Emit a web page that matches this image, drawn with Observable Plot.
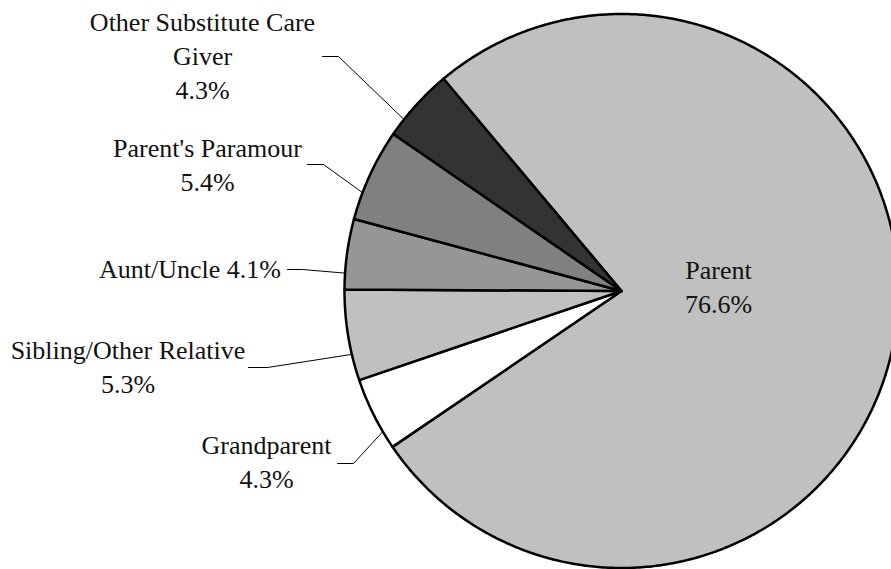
<!DOCTYPE html>
<html>
<head>
<meta charset="utf-8">
<script src="https://cdn.jsdelivr.net/npm/d3@7"></script>
<script src="https://cdn.jsdelivr.net/npm/@observablehq/plot@0.6"></script>
<style>
  html, body { margin: 0; padding: 0; background: #fff; overflow: hidden; }
</style>
</head>
<body>
<div id="chart"></div>
<script>
// ---- data ----
const categories = ["Parent", "Grandparent", "Sibling/Other Relative", "Aunt/Uncle", "Parent's Paramour", "Other Substitute Care Giver"];
const percents = [76.6, 4.3, 5.3, 4.1, 5.4, 4.3];
const labelLines = [["Parent", "76.6%"], ["Grandparent", "4.3%"], ["Sibling/Other Relative", "5.3%"], ["Aunt/Uncle 4.1%"], ["Parent's Paramour", "5.4%"], ["Other Substitute Care", "Giver", "4.3%"]];

// ---- styles / layout ----
const sliceFills = ["#c0c0c0", "#ffffff", "#c0c0c0", "#969696", "#808080", "#333333"];
const W = 891, H = 569;
const pie = {cx: 621, cy: 290.5, r: 277, startAngle: 320};
const fontSize = 26, lineStep = 34;
// label anchor: centre x and baseline of the last line
const labelPos = [[718, 312], [266, 487], [127.5, 392], [189.5, 277], [207, 190], [202, 98]];
const leaderElbows = [null, [[337, 463], [353, 463]], [[248, 367], [267, 367]], [[287, 269], [302, 269]], [[307, 164], [323, 164]], [[322, 56], [338, 56]]];

// ---- geometry derived from values ----
const rad = d => d * Math.PI / 180;
const toXY = (deg, r) => [pie.cx + r * Math.sin(rad(deg)), pie.cy - r * Math.cos(rad(deg))];
let acc = 0;
const slices = categories.map((c, i) => {
  const a0 = pie.startAngle + acc / 100 * 360;
  acc += percents[i];
  const a1 = pie.startAngle + acc / 100 * 360;
  return {c, a0, a1, mid: (a0 + a1) / 2, fill: sliceFills[i]};
});
const piePts = [];
for (const s of slices) {
  piePts.push({c: s.c, fill: s.fill, x: pie.cx, y: pie.cy});
  const n = Math.max(2, Math.ceil((s.a1 - s.a0) / 0.5));
  for (let k = 0; k <= n; k++) {
    const [x, y] = toXY(s.a0 + (s.a1 - s.a0) * k / n, pie.r);
    piePts.push({c: s.c, fill: s.fill, x, y});
  }
  piePts.push({c: s.c, fill: s.fill, x: pie.cx, y: pie.cy});
}
const leaderPts = [];
slices.forEach((s, i) => {
  if (!leaderElbows[i]) return;
  for (const [x, y] of leaderElbows[i]) leaderPts.push({c: s.c, x, y});
  const [tx, ty] = toXY(s.mid - 4, pie.r);
  leaderPts.push({c: s.c, x: tx, y: ty});
});
const labelRows = [];
categories.forEach((c, i) => {
  const lines = labelLines[i];
  lines.forEach((t, j) => {
    const baseline = labelPos[i][1] - (lines.length - 1 - j) * lineStep;
    labelRows.push({c, text: t, x: labelPos[i][0], y: baseline - 0.32 * fontSize});
  });
});

const chart = Plot.plot({
  width: W,
  height: H,
  margin: 0,
  x: {domain: [0, W], axis: null},
  y: {domain: [0, H], reverse: true, axis: null},
  color: {type: "identity"},
  marks: [
    Plot.line(piePts, {x: "x", y: "y", z: "c", fill: "fill", stroke: "#000", strokeWidth: 2.5, strokeLinejoin: "round", curve: "linear"}),
    Plot.line(leaderPts, {x: "x", y: "y", z: "c", stroke: "#000", strokeWidth: 1, curve: "linear"}),
    Plot.text(labelRows, {x: "x", y: "y", text: "text", fontFamily: "Liberation Serif", fontSize: fontSize, textAnchor: "middle", fill: "#111"})
  ]
});
document.getElementById("chart").appendChild(chart);
</script>
</body>
</html>
